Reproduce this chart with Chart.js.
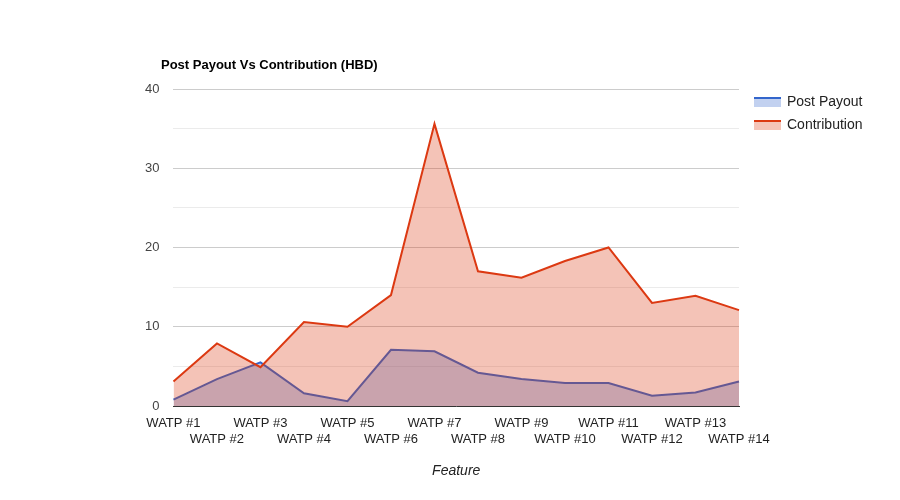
<!DOCTYPE html>
<html>
<head>
<meta charset="utf-8">
<script src="https://cdn.jsdelivr.net/npm/chart.js@4"></script>
<style>
  html, body { margin: 0; background: #fff; }
  #wrap { width: 900px; height: 500px; position: relative; font-family: Arial, "Liberation Sans", sans-serif; }
  #title { position: absolute; left: 161px; top: 57px; font-size: 13px; font-weight: bold; color: #000; }
  .leg { position: absolute; left: 754px; font-size: 14px; color: #222; }
  .leg span.sw { display: inline-block; width: 27px; height: 8px; margin-right: 6px; vertical-align: middle; }
</style>
</head>
<body>
<div id="wrap">
  <canvas id="c"></canvas>
  <div id="title">Post Payout Vs Contribution (HBD)</div>
  <div class="leg" style="top:93px"><span class="sw" style="border-top:2px solid #3366cc;background:#c2d1f0"></span>Post Payout</div>
  <div class="leg" style="top:116px"><span class="sw" style="border-top:2px solid #dc3912;background:#f5c4b8"></span>Contribution</div>
</div>
<script>
const categories = ['WATP #1','WATP #2','WATP #3','WATP #4','WATP #5','WATP #6','WATP #7',
                    'WATP #8','WATP #9','WATP #10','WATP #11','WATP #12','WATP #13','WATP #14']
const postPayout   = [0.8, 3.4, 5.5, 1.6, 0.6, 7.1, 6.9, 4.2, 3.4, 2.9, 2.9, 1.3, 1.7, 3.1]
const contribution = [3.1, 7.9, 4.9, 10.6, 10.0, 14.0, 35.6, 17.0, 16.2, 18.3, 20.0, 13.0, 13.9, 12.1]
const yTicks = [0, 10, 20, 30, 40]

const font = { family: 'Arial, "Liberation Sans", sans-serif', size: 13 }

new Chart(document.getElementById('c'), {
    type: 'line',
    data: {
        labels: categories,
        datasets: [{
            label: 'Post Payout',
            data: postPayout,
            borderColor: '#3366cc',
            backgroundColor: 'rgba(51,102,204,0.3)',
            borderWidth: 2,
            fill: 'origin',
            pointRadius: 0,
            tension: 0,
            order: 1
        }, {
            label: 'Contribution',
            data: contribution,
            borderColor: '#dc3912',
            backgroundColor: 'rgba(220,57,18,0.3)',
            borderWidth: 2,
            fill: 'origin',
            pointRadius: 0,
            tension: 0,
            order: 0
        }]
    },
    options: {
        responsive: true,
        maintainAspectRatio: false,
        animation: false,
        layout: { padding: { left: 131, right: 161, top: 89, bottom: 16 } },
        plugins: {
            legend: { display: false },
            tooltip: { enabled: false }
        },
        scales: {
            x: {
                offset: false,
                grid: { display: false },
                border: { color: '#333' },
                ticks: {
                    color: '#222',
                    font: font,
                    maxRotation: 0,
                    autoSkip: false,
                    padding: 2,
                    callback: (v, i) => i % 2 === 1 ? ['', categories[i]] : categories[i]
                },
                title: {
                    display: true,
                    text: 'Feature',
                    color: '#222',
                    font: { family: font.family, size: 14, style: 'italic' },
                    padding: { top: 14 }
                }
            },
            y: {
                min: 0,
                max: 40,
                afterBuildTicks: axis => {
                    const t = []
                    for (let v = 0; v <= 40; v += 5) t.push({ value: v })
                    axis.ticks = t
                },
                grid: {
                    color: ctx => ctx.tick && ctx.tick.value % 10 === 0 ? '#cccccc' : '#ebebeb',
                    drawTicks: false
                },
                border: { display: false },
                ticks: {
                    color: '#444',
                    font: font,
                    padding: 14,
                    callback: v => yTicks.includes(v) ? v : ''
                }
            }
        }
    }
})
</script>
</body>
</html>
